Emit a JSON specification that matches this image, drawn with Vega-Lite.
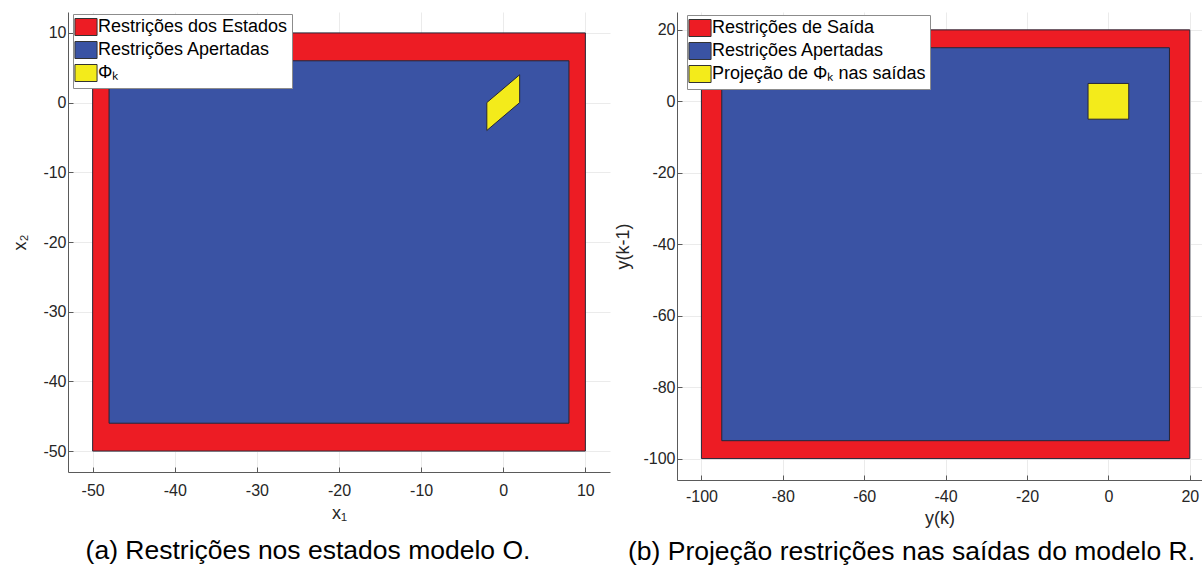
{
  "$schema": "https://vega.github.io/schema/vega-lite/v6.json",
  "background": "white",
  "padding": {"left": 11, "top": 12, "right": 0, "bottom": 0},
  "bounds": "flush",
  "spacing": 67,
  "datasets": {
    "a_rects": [
      {"name": "Restrições dos Estados", "x0": -50, "x1": 10, "y0": -50, "y1": 10},
      {"name": "Restrições Apertadas", "x0": -48, "x1": 8, "y0": -46, "y1": 6}
    ],
    "a_phi": [
      {"name": "Φₖ", "x": -2, "ylo": -4, "yhi": 0},
      {"name": "Φₖ", "x": 2, "ylo": 0, "yhi": 4}
    ],
    "b_rects": [
      {"name": "Restrições de Saída", "x0": -100, "x1": 20, "y0": -100, "y1": 20},
      {"name": "Restrições Apertadas", "x0": -95, "x1": 15, "y0": -95, "y1": 15},
      {"name": "Projeção de Φₖ nas saídas", "x0": -5, "x1": 5, "y0": -5, "y1": 5}
    ]
  },
  "config": {
    "view": {"stroke": null},
    "font": "Liberation Sans",
    "axis": {
      "grid": true,
      "gridColor": "#ebebeb",
      "gridWidth": 1,
      "domainColor": "#5a5a5a",
      "domainWidth": 1,
      "tickColor": "#5a5a5a",
      "tickSize": -5,
      "labelFont": "Liberation Sans",
      "labelFontSize": 16,
      "labelColor": "#262626",
      "labelExpr": "replace(datum.label, '−', '-')",
      "titleFont": "Liberation Sans",
      "titleFontSize": 18,
      "titleFontWeight": "normal",
      "titleColor": "#262626"
    },
    "legend": {
      "orient": "none",
      "title": null,
      "symbolType": "M-1.3,-1H1.3V1H-1.3Z",
      "symbolSize": 289,
      "symbolStrokeColor": "#333333",
      "symbolStrokeWidth": 1,
      "symbolOpacity": 1,
      "labelFont": "Liberation Sans",
      "labelFontSize": 18,
      "labelColor": "#000000",
      "labelLimit": 400,
      "labelOffset": 3,
      "rowPadding": 1,
      "padding": 4,
      "fillColor": "white",
      "strokeColor": "#8c8c8c"
    },
    "title": {
      "font": "Liberation Sans",
      "fontSize": 26.5,
      "fontWeight": "normal",
      "color": "#000000",
      "orient": "bottom",
      "frame": "group"
    }
  },
  "resolve": {
    "scale": {"x": "independent", "y": "independent", "fill": "independent"},
    "legend": {"fill": "independent"}
  },
  "hconcat": [
    {
      "width": 542,
      "height": 460,
      "title": {"text": "(a) Restrições nos estados modelo O.", "dx": -31, "offset": 16},
      "layer": [
        {
          "data": {"name": "a_rects"},
          "mark": {"type": "rect", "stroke": "#262636", "strokeWidth": 1},
          "encoding": {
            "x": {"field": "x0", "type": "quantitative", "title": "x₁",
                  "scale": {"domain": [-53, 13], "nice": false, "zero": false},
                  "axis": {"values": [-50, -40, -30, -20, -10, 0, 10], "labelPadding": 15, "titlePadding": 6}},
            "x2": {"field": "x1"},
            "y": {"field": "y0", "type": "quantitative", "title": "x₂",
                  "scale": {"domain": [-53, 13], "nice": false, "zero": false},
                  "axis": {"values": [-50, -40, -30, -20, -10, 0, 10], "labelPadding": 7, "titlePadding": 13}},
            "y2": {"field": "y1"},
            "fill": {"field": "name", "type": "nominal",
                     "scale": {"domain": ["Restrições dos Estados", "Restrições Apertadas", "Φₖ"],
                               "range": ["#ED1C24", "#3A53A4", "#F3EB1B"]},
                     "legend": {"legendX": 5, "legendY": 2}}
          }
        },
        {
          "data": {"name": "a_phi"},
          "mark": {"type": "area", "stroke": "#262636", "strokeWidth": 1, "interpolate": "linear", "opacity": 1},
          "encoding": {
            "x": {"field": "x", "type": "quantitative", "title": "x₁"},
            "y": {"field": "ylo", "type": "quantitative", "title": "x₂"},
            "y2": {"field": "yhi"},
            "fill": {"field": "name", "type": "nominal"}
          }
        }
      ]
    },
    {
      "width": 525,
      "height": 468,
      "title": {"text": "(b) Projeção restrições nas saídas do modelo R.", "dx": -28, "offset": 12},
      "data": {"name": "b_rects"},
      "mark": {"type": "rect", "stroke": "#262636", "strokeWidth": 1},
      "encoding": {
        "x": {"field": "x0", "type": "quantitative", "title": "y(k)",
              "scale": {"domain": [-106, 23], "nice": false, "zero": false},
              "axis": {"values": [-100, -80, -60, -40, -20, 0, 20], "labelPadding": 13, "titlePadding": 5}},
        "x2": {"field": "x1"},
        "y": {"field": "y0", "type": "quantitative", "title": "y(k-1)",
              "scale": {"domain": [-106, 25], "nice": false, "zero": false},
              "axis": {"values": [-100, -80, -60, -40, -20, 0, 20], "labelPadding": 7, "titlePadding": 10}},
        "y2": {"field": "y1"},
        "fill": {"field": "name", "type": "nominal",
                 "scale": {"domain": ["Restrições de Saída", "Restrições Apertadas", "Projeção de Φₖ nas saídas"],
                           "range": ["#ED1C24", "#3A53A4", "#F3EB1B"]},
                 "legend": {"legendX": 10, "legendY": 3}}
      }
    }
  ]
}
